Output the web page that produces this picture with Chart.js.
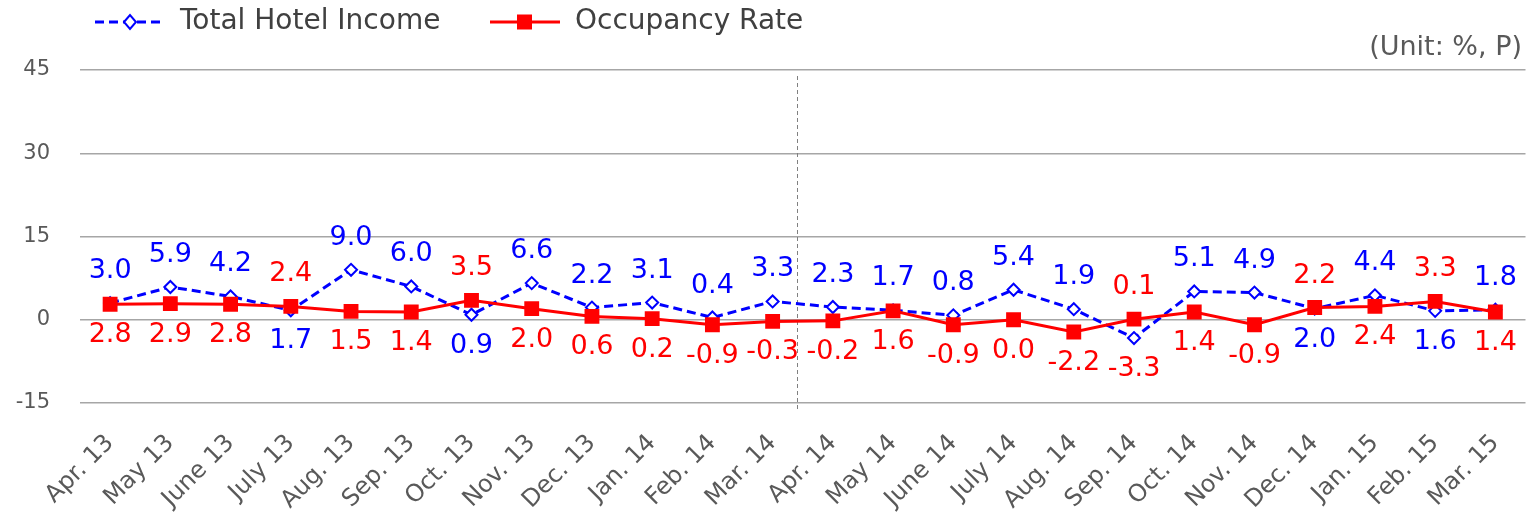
<!DOCTYPE html>
<html>
<head>
<meta charset="utf-8">
<script src="https://cdn.jsdelivr.net/npm/chart.js@4/dist/chart.umd.min.js"></script>
<style>
  html, body { margin: 0; padding: 0; background: #fff; }
  #wrap { width: 1536px; height: 516px; position: relative; }
</style>
</head>
<body>
<div id="wrap"><canvas id="hotelChart" width="1536" height="516"></canvas></div>
<script>
const months = ['Apr. 13', 'May 13', 'June 13', 'July 13', 'Aug. 13', 'Sep. 13', 'Oct. 13', 'Nov. 13',
    'Dec. 13', 'Jan. 14', 'Feb. 14', 'Mar. 14', 'Apr. 14', 'May 14', 'June 14', 'July 14',
    'Aug. 14', 'Sep. 14', 'Oct. 14', 'Nov. 14', 'Dec. 14', 'Jan. 15', 'Feb. 15', 'Mar. 15'];
const hotelIncome = [3.0, 5.9, 4.2, 1.7, 9.0, 6.0, 0.9, 6.6, 2.2, 3.1, 0.4, 3.3,
    2.3, 1.7, 0.8, 5.4, 1.9, -3.3, 5.1, 4.9, 2.0, 4.4, 1.6, 1.8];
const occupancyRate = [2.8, 2.9, 2.8, 2.4, 1.5, 1.4, 3.5, 2.0, 0.6, 0.2, -0.9, -0.3,
    -0.2, 1.6, -0.9, 0.0, -2.2, 0.1, 1.4, -0.9, 2.2, 2.4, 3.3, 1.4];
const yTicks = [-15, 0, 15, 30, 45];
const seriesNames = ['Total Hotel Income', 'Occupancy Rate'];
const unitText = '(Unit: %, P)';

const BLUE = '#0000ff';
const RED = '#ff0000';
const TEXT = '#404040';
// the -3.3 label in the source is printed in red
const redIncomeLabels = ['Sep. 14'];

const decor = {
    id: 'decor',
    beforeDatasetsDraw(chart) {
        const ctx = chart.ctx;
        const x = chart.scales.x;
        // fiscal year divider
        const px = x.getPixelForValue(11) + 0.4 * (x.getPixelForValue(12) - x.getPixelForValue(11));
        ctx.save();
        ctx.strokeStyle = '#808080';
        ctx.lineWidth = 1;
        ctx.setLineDash([4, 3]);
        ctx.beginPath();
        ctx.moveTo(Math.round(px) + 0.5, 76);
        ctx.lineTo(Math.round(px) + 0.5, 410);
        ctx.stroke();
        ctx.restore();
    },
    afterDatasetsDraw(chart) {
        const ctx = chart.ctx;
        const x = chart.scales.x, y = chart.scales.y;
        ctx.save();
        ctx.font = '27px "DejaVu Sans"';
        ctx.textAlign = 'center';
        ctx.textBaseline = 'middle';
        months.forEach((m, i) => {
            const a = hotelIncome[i], b = occupancyRate[i];
            const cx = x.getPixelForValue(i);
            const aUp = a >= b;
            ctx.fillStyle = redIncomeLabels.includes(m) ? RED : BLUE;
            ctx.fillText(a.toFixed(1), cx, y.getPixelForValue(a) + (aUp ? -32 : 31));
            ctx.fillStyle = RED;
            ctx.fillText(b.toFixed(1), cx, y.getPixelForValue(b) + (aUp ? 31 : -32));
        });

        // legend
        const ly = 22;
        ctx.lineWidth = 3;
        ctx.strokeStyle = BLUE;
        ctx.setLineDash([9, 5]);
        ctx.beginPath(); ctx.moveTo(95, ly); ctx.lineTo(165, ly); ctx.stroke();
        ctx.setLineDash([]);
        ctx.lineWidth = 2;
        ctx.fillStyle = '#fff';
        ctx.beginPath();
        ctx.moveTo(124, ly); ctx.lineTo(130, ly - 7); ctx.lineTo(136, ly); ctx.lineTo(130, ly + 7);
        ctx.closePath(); ctx.fill(); ctx.stroke();

        ctx.lineWidth = 3;
        ctx.strokeStyle = RED;
        ctx.beginPath(); ctx.moveTo(490, ly); ctx.lineTo(560, ly); ctx.stroke();
        ctx.fillStyle = RED;
        ctx.fillRect(517, ly - 7.5, 15, 15);

        ctx.fillStyle = TEXT;
        ctx.textAlign = 'left';
        ctx.font = '28px "DejaVu Sans"';
        ctx.fillText(seriesNames[0], 180, ly);
        ctx.fillText(seriesNames[1], 575, ly);

        ctx.textAlign = 'right';
        ctx.fillStyle = '#595959';
        ctx.font = '27px "DejaVu Sans"';
        ctx.fillText(unitText, 1522, 48);
        ctx.restore();
    }
};

new Chart(document.getElementById('hotelChart'), {
    type: 'line',
    data: {
        labels: months,
        datasets: [{
            label: seriesNames[0],
            data: hotelIncome,
            borderColor: BLUE,
            borderWidth: 3,
            borderDash: [9, 5],
            pointStyle: 'rectRot',
            pointRadius: 6,
            pointBorderWidth: 2,
            pointBackgroundColor: '#fff',
            pointBorderColor: BLUE,
            tension: 0,
            order: 1
        }, {
            label: seriesNames[1],
            data: occupancyRate,
            borderColor: RED,
            borderWidth: 3,
            pointStyle: 'rect',
            pointRadius: 10.5,
            pointBorderWidth: 0,
            pointBackgroundColor: RED,
            pointBorderColor: RED,
            tension: 0,
            order: 0
        }]
    },
    options: {
        responsive: false,
        animation: false,
        layout: { padding: { top: 70, right: -4, left: 0, bottom: 0 } },
        plugins: {
            legend: { display: false },
            tooltip: { enabled: false }
        },
        scales: {
            x: {
                offset: true,
                grid: { display: false, drawTicks: false },
                border: { display: false },
                ticks: {
                    minRotation: 45,
                    maxRotation: 45,
                    padding: 26,
                    color: '#595959',
                    font: { family: 'DejaVu Sans', size: 24 }
                },
                afterFit(scale) {
                    scale.height = 113;
                    scale.paddingLeft = 0;
                    scale.paddingRight = 0;
                }
            },
            y: {
                min: -15,
                max: 45,
                afterBuildTicks(scale) { scale.ticks = yTicks.map(v => ({ value: v })); },
                grid: { color: '#a6a6a6', lineWidth: 1.5, drawTicks: false },
                border: { display: false },
                ticks: {
                    padding: 30,
                    color: '#595959',
                    font: { family: 'DejaVu Sans', size: 21 }
                },
                afterFit(scale) { scale.width = 80; }
            }
        }
    },
    plugins: [decor]
});
</script>
</body>
</html>
